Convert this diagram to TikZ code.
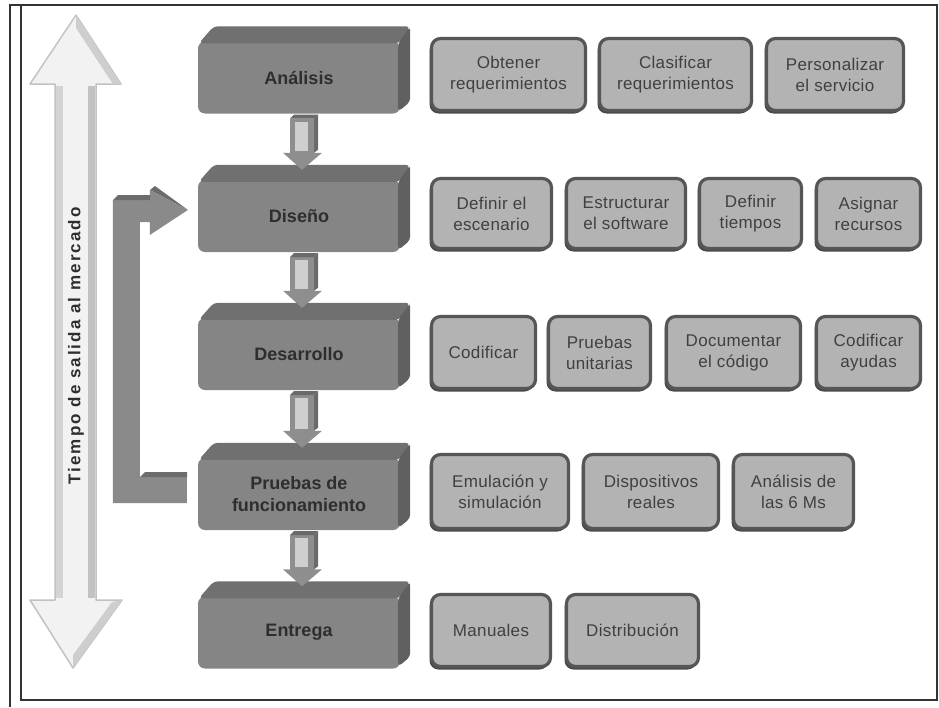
\documentclass[tikz,border=0pt]{standalone}
\usepackage{fontspec}
\setmainfont{Liberation Sans}
\usetikzlibrary{calc,shadows}
\definecolor{frameC}{HTML}{333333}
\definecolor{stageFront}{HTML}{858585}
\definecolor{stageTop}{HTML}{707070}
\definecolor{stageSide}{HTML}{606060}
\definecolor{stageText}{HTML}{2E2E2E}
\definecolor{boxFill}{HTML}{B3B3B3}
\definecolor{boxLine}{HTML}{565656}
\definecolor{boxShadow}{HTML}{4A4A4A}
\definecolor{boxText}{HTML}{404040}
\definecolor{arrGray}{HTML}{8E8E8E}
\definecolor{arrLight}{HTML}{CFCFCF}
\definecolor{arrDark}{HTML}{6A6A6A}
\definecolor{bigFill}{HTML}{F2F2F2}
\definecolor{bigEdge}{HTML}{C2C2C2}
\definecolor{fbGray}{HTML}{8A8A8A}
\definecolor{fbDark}{HTML}{6C6C6C}
\newcommand\stgarrow[2]{%
  \coordinate (tip#1) at ($(#2.north)+(3,-10)$);
  \fill[arrGray] ($(#1.south)+(-9,5)$) -- ($(#1.south)+(15,5)$) -- ($(tip#1)+(12,-17)$)
    -- ($(tip#1)+(20,-17)$) -- (tip#1) -- ($(tip#1)+(-19,-17)$) -- ($(tip#1)+(-12,-17)$) -- cycle;
  \fill[arrLight] ($(#1.south)+(-4,8)$) rectangle ($(tip#1)+(6,-19)$);
  \fill[arrDark] ($(#1.south)+(-9,5)$) -- ($(#1.south)+(-5,1)$) -- ($(#1.south)+(19,1)$) -- ($(#1.south)+(15,5)$) -- cycle;
  \fill[arrDark] ($(#1.south)+(15,5)$) -- ($(#1.south)+(19,1)$) -- ($(tip#1)+(16,-20)$) -- ($(tip#1)+(12,-17)$) -- cycle;
}
\newcommand\stgfaces[1]{%
  \fill[stageTop, rounded corners=4pt] ($(#1.north west)+(1,2)$) -- ($(#1.north west)+(16,-15)$) -- ($(#1.north east)+(10,-15)$) -- ($(#1.north east)+(-1,2)$) -- cycle;
  \fill[stageSide, rounded corners=4pt] ($(#1.north east)+(-2,2)$) -- ($(#1.north east)+(10,-15)$) -- ($(#1.south east)+(10,-12)$) -- ($(#1.south east)+(-2,-2)$) -- cycle;
}
\begin{document}
\begin{tikzpicture}[x=1pt,y=-1pt,
  stagebox/.style={fill=stageFront, rounded corners=7pt, minimum width=202pt, minimum height=72pt,
    inner sep=0pt, align=center, text=stageText, font=\fontsize{18}{22}\selectfont\bfseries},
  sbox/.style={draw=boxLine, line width=3.2pt, fill=boxFill, rounded corners=9pt,
    general shadow={shadow xshift=-2pt, shadow yshift=-3pt, fill=boxShadow, rounded corners=9pt},
    inner sep=0pt, align=center, text=boxText, font=\fontsize{17}{21}\selectfont\addfontfeature{LetterSpace=2}},
  bigtext/.style={rotate=90, text=stageText, font=\fontsize{17}{20}\selectfont\bfseries\addfontfeature{LetterSpace=12}}
]
\useasboundingbox (0,0) rectangle (939,707);
\fill[white] (0,0) rectangle (939,707);
% frame
\draw[frameC, line width=1.6pt] (21,5) rectangle (937,700);
\draw[frameC, line width=1.6pt] (10,707) -- (10,5) -- (21,5);

% big double arrow
\fill[bigFill, draw=bigEdge, line width=1.5pt, line join=round]
  (76,15) -- (121,84) -- (96,84) -- (96,600) -- (122,600) -- (73,668) -- (30,600) -- (55,600) -- (55,84) -- (30,84) -- cycle;
\fill[bigEdge!70] (56,86) rectangle (63,598);
\fill[bigEdge] (88,86) rectangle (95,598);
\fill[bigEdge!80] (76,15) -- (121,84) -- (113,84) -- (76,28) -- cycle;
\fill[bigEdge!80] (122,600) -- (73,668) -- (73,655) -- (112,602) -- cycle;
\node[bigtext] (tm) at (76,346) {Tiempo de salida al mercado};

% stages
\node[stagebox] (ana) at (299,77.5) {Análisis};
\node[stagebox] (dis) at (299,216) {Diseño};
\node[stagebox] (des) at (299,354) {Desarrollo};
\node[stagebox] (pru) at (299,494) {Pruebas de\\funcionamiento};
\node[stagebox] (ent) at (299,632.5) {Entrega};
\stgfaces{ana}\stgfaces{dis}\stgfaces{des}\stgfaces{pru}\stgfaces{ent}

% down arrows
\stgarrow{ana}{dis}
\stgarrow{dis}{des}
\stgarrow{des}{pru}
\stgarrow{pru}{ent}

% feedback arrow
\coordinate (fa) at ($(pru.west)+(-11,-4)$);
\coordinate (fb) at ($(dis.west)+(-10,-6)$);
\fill[fbGray] ($(fa)+(0,13)$) -- ++(-74,0) -- ++(0,-303) -- ++(37,0) -- ++(0,-10) -- (fb)
  -- ++(-38,25) -- ++(0,-13) -- ++(-10,0) -- ++(0,255) -- ++(47,0) -- cycle;
\fill[fbDark] (113,200) -- (118,195) -- (150,195) -- (150,200) -- cycle;
\fill[fbDark] (140,477) -- (145,472) -- (187,472) -- (187,477) -- cycle;
\fill[fbDark] (150,190) -- (155,186) -- (188,210) -- cycle;

% row 1
\node[sbox, minimum width=154pt, minimum height=72pt] (r1a) at (508.5,74.5) {Obtener\\requerimientos};
\node[sbox, minimum width=152pt, minimum height=72pt] (r1b) at (675.5,74.5) {Clasificar\\requerimientos};
\node[sbox, minimum width=137pt, minimum height=72pt] (r1c) at (835,74.5) {Personalizar\\el servicio};
% row 2
\node[sbox, minimum width=120pt, minimum height=70pt] (r2a) at (491.5,213.5) {Definir el\\escenario};
\node[sbox, minimum width=119pt, minimum height=70pt] (r2b) at (626,213.5) {Estructurar\\el software};
\node[sbox, minimum width=102pt, minimum height=70pt] (r2c) at (750.5,213.5) {Definir\\tiempos};
\node[sbox, minimum width=104pt, minimum height=70pt] (r2d) at (868.5,213.5) {Asignar\\recursos};
% row 3
\node[sbox, minimum width=104pt, minimum height=72pt] (r3a) at (483.5,352.5) {Codificar};
\node[sbox, minimum width=102pt, minimum height=72pt] (r3b) at (599.5,352.5) {Pruebas\\unitarias};
\node[sbox, minimum width=134pt, minimum height=72pt] (r3c) at (733.5,352.5) {Documentar\\el código};
\node[sbox, minimum width=104pt, minimum height=72pt] (r3d) at (868.5,352.5) {Codificar\\ayudas};
% row 4
\node[sbox, minimum width=137pt, minimum height=74pt] (r4a) at (500,491.5) {Emulación y\\simulación};
\node[sbox, minimum width=135pt, minimum height=74pt] (r4b) at (651,491.5) {Dispositivos\\reales};
\node[sbox, minimum width=120pt, minimum height=74pt] (r4c) at (793.5,491.5) {Análisis de\\las 6 Ms};
% row 5
\node[sbox, minimum width=119pt, minimum height=72pt] (r5a) at (491,630.5) {Manuales};
\node[sbox, minimum width=132pt, minimum height=72pt] (r5b) at (632.5,630.5) {Distribución};
\end{tikzpicture}
\end{document}
